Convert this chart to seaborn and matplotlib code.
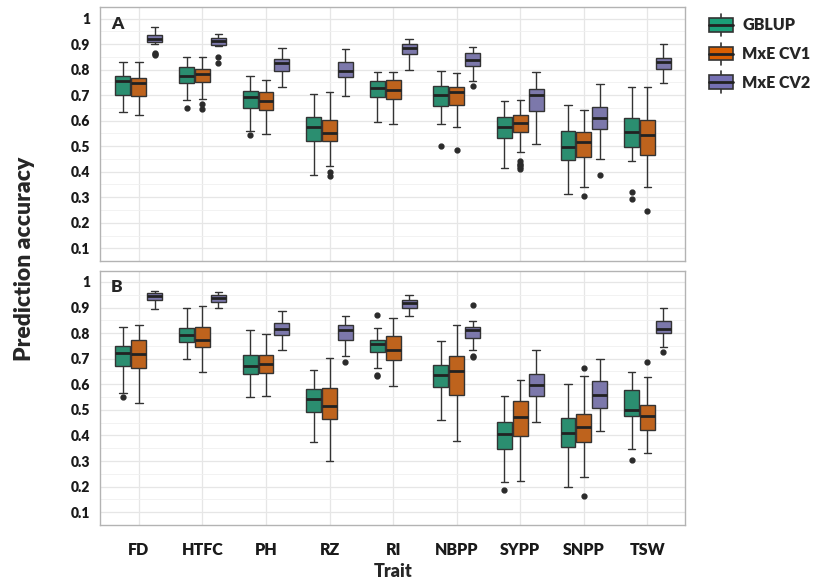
import numpy as np
import pandas as pd
import seaborn as sns
import matplotlib
matplotlib.use("Agg")
import matplotlib.pyplot as plt
from matplotlib.patches import Patch, Rectangle
from matplotlib.lines import Line2D
from matplotlib.legend_handler import HandlerBase

traits = ["FD", "HTFC", "PH", "RZ", "RI", "NBPP", "SYPP", "SNPP", "TSW"]
methods = ["GBLUP", "MxE CV1", "MxE CV2"]
colors = {"GBLUP": "#1b9e77", "MxE CV1": "#d95f02", "MxE CV2": "#7570b3"}

# box stats: [whisker low, q1, median, q3, whisker high]
A_gblup = [[0.633, 0.699, 0.754, 0.776, 0.828], [0.682, 0.749, 0.776, 0.812, 0.848],
           [0.559, 0.650, 0.691, 0.716, 0.776], [0.388, 0.519, 0.576, 0.614, 0.704],
           [0.596, 0.691, 0.728, 0.756, 0.789], [0.585, 0.659, 0.699, 0.737, 0.794],
           [0.414, 0.533, 0.577, 0.615, 0.676], [0.314, 0.446, 0.496, 0.559, 0.662],
           [0.443, 0.496, 0.555, 0.610, 0.733]]
A_cv1 = [[0.624, 0.695, 0.746, 0.769, 0.828], [0.686, 0.750, 0.781, 0.802, 0.848],
         [0.548, 0.642, 0.676, 0.712, 0.760], [0.423, 0.522, 0.553, 0.602, 0.714],
         [0.586, 0.684, 0.719, 0.759, 0.791], [0.575, 0.662, 0.712, 0.732, 0.787],
         [0.477, 0.555, 0.590, 0.624, 0.682], [0.339, 0.458, 0.518, 0.557, 0.640],
         [0.339, 0.467, 0.545, 0.603, 0.733]]
A_cv2 = [[0.900, 0.907, 0.921, 0.934, 0.965], [0.893, 0.896, 0.911, 0.922, 0.939],
         [0.730, 0.794, 0.825, 0.843, 0.886], [0.695, 0.771, 0.796, 0.830, 0.879],
         [0.800, 0.860, 0.883, 0.901, 0.918], [0.756, 0.815, 0.838, 0.864, 0.889],
         [0.507, 0.636, 0.702, 0.725, 0.791], [0.450, 0.568, 0.612, 0.653, 0.745],
         [0.746, 0.802, 0.828, 0.846, 0.899]]

B_gblup = [[0.567, 0.672, 0.721, 0.750, 0.824], [0.698, 0.765, 0.793, 0.821, 0.898],
           [0.551, 0.639, 0.671, 0.713, 0.811], [0.376, 0.493, 0.544, 0.581, 0.654],
           [0.665, 0.725, 0.759, 0.774, 0.821], [0.459, 0.589, 0.638, 0.676, 0.768],
           [0.219, 0.349, 0.405, 0.453, 0.553], [0.197, 0.353, 0.410, 0.470, 0.603],
           [0.346, 0.477, 0.501, 0.579, 0.647]]
B_cv1 = [[0.528, 0.664, 0.720, 0.772, 0.833], [0.647, 0.746, 0.774, 0.822, 0.907],
         [0.554, 0.645, 0.680, 0.715, 0.798], [0.301, 0.466, 0.515, 0.586, 0.703],
         [0.593, 0.693, 0.733, 0.787, 0.859], [0.380, 0.558, 0.650, 0.711, 0.833],
         [0.223, 0.398, 0.472, 0.534, 0.615], [0.236, 0.375, 0.433, 0.485, 0.632],
         [0.333, 0.422, 0.476, 0.519, 0.629]]
B_cv2 = [[0.895, 0.930, 0.946, 0.958, 0.966], [0.900, 0.923, 0.936, 0.949, 0.962],
         [0.733, 0.794, 0.816, 0.838, 0.888], [0.710, 0.774, 0.811, 0.830, 0.868],
         [0.865, 0.900, 0.917, 0.929, 0.948], [0.735, 0.782, 0.811, 0.825, 0.848],
         [0.453, 0.554, 0.597, 0.639, 0.735], [0.418, 0.506, 0.560, 0.611, 0.699],
         [0.746, 0.800, 0.818, 0.847, 0.900]]

# outlier points (trait, method) -> values
A_out = {("FD", "MxE CV2"): [0.864, 0.860, 0.857],
         ("HTFC", "GBLUP"): [0.648],
         ("HTFC", "MxE CV1"): [0.664, 0.646],
         ("HTFC", "MxE CV2"): [0.851, 0.825],
         ("PH", "GBLUP"): [0.542],
         ("RZ", "MxE CV1"): [0.398, 0.384],
         ("NBPP", "GBLUP"): [0.500],
         ("NBPP", "MxE CV1"): [0.484],
         ("NBPP", "MxE CV2"): [0.736],
         ("SYPP", "MxE CV1"): [0.440, 0.432, 0.425, 0.418, 0.410],
         ("SNPP", "MxE CV1"): [0.305],
         ("SNPP", "MxE CV2"): [0.387],
         ("TSW", "GBLUP"): [0.321, 0.293],
         ("TSW", "MxE CV1"): [0.246]}
B_out = {("FD", "GBLUP"): [0.550],
         ("RZ", "MxE CV2"): [0.686],
         ("RI", "GBLUP"): [0.872, 0.638, 0.634],
         ("NBPP", "MxE CV2"): [0.908, 0.712, 0.706],
         ("SYPP", "GBLUP"): [0.185],
         ("SNPP", "MxE CV1"): [0.662, 0.162],
         ("TSW", "GBLUP"): [0.304],
         ("TSW", "MxE CV1"): [0.689],
         ("TSW", "MxE CV2"): [0.725]}


def to_long(stats_by_method, outliers):
    # rebuild a sample whose quartiles/whiskers reproduce the read stats
    rows = []
    for m, stats in stats_by_method.items():
        for t, (lo, q1, med, q3, hi) in zip(traits, stats):
            vals = [lo] + [q1] * 10 + [med] * 10 + [q3] * 10 + [hi] + outliers.get((t, m), [])
            rows += [(t, m, v) for v in vals]
    return pd.DataFrame(rows, columns=["Trait", "Method", "value"])


df_A = to_long({"GBLUP": A_gblup, "MxE CV1": A_cv1, "MxE CV2": A_cv2}, A_out)
df_B = to_long({"GBLUP": B_gblup, "MxE CV1": B_cv1, "MxE CV2": B_cv2}, B_out)

sns.set_style("white")
plt.rcParams["font.family"] = ["Lato", "DejaVu Sans"]
plt.rcParams["font.weight"] = "heavy"
W = "heavy"

fig = plt.figure(figsize=(8.14, 5.84), dpi=100)
ax_A = fig.add_axes([0.1229, 0.553, 0.7186, 0.4345])
ax_B = fig.add_axes([0.1229, 0.101, 0.7186, 0.4355])

for ax, df, lab in [(ax_A, df_A, "A"), (ax_B, df_B, "B")]:
    sns.boxplot(data=df, x="Trait", y="value", hue="Method", order=traits,
                hue_order=methods, palette=colors, width=0.75, gap=0.06,
                linecolor="#333333", linewidth=1.0, fliersize=3.5,
                flierprops=dict(marker="o", markerfacecolor="#2b2b2b",
                                markeredgecolor="#2b2b2b"),
                medianprops=dict(color="#222222", linewidth=2.0),
                legend=False, ax=ax, zorder=3)
    ax.set_xlim(-0.61, 8.59)
    ax.set_ylim(0.055, 1.044)
    ax.set_yticks(np.arange(0.1, 1.01, 0.1))
    ax.set_yticklabels(["0.1", "0.2", "0.3", "0.4", "0.5", "0.6", "0.7", "0.8", "0.9", "1"])
    ax.set_yticks(np.arange(0.05, 1.05, 0.1), minor=True)
    ax.grid(True, which="major", color="#e6e6e6", linewidth=0.9, zorder=0)
    ax.grid(True, which="minor", axis="y", color="#f0f0f0", linewidth=0.6, zorder=0)
    ax.set_axisbelow(True)
    for s in ax.spines.values():
        s.set_color("#b3b3b3")
        s.set_linewidth(1.0)
    ax.tick_params(axis="both", which="major", length=3, color="#b3b3b3",
                   labelcolor="#1a1a1a")
    ax.tick_params(axis="y", which="major", labelsize=10, pad=4)
    ax.tick_params(axis="x", which="major", labelsize=11.5, pad=9)
    ax.tick_params(which="minor", length=0)
    for t in ax.get_xticklabels() + ax.get_yticklabels():
        t.set_fontweight(W)
    ax.set_xlabel("")
    ax.set_ylabel("")
    ax.text(0.019, 0.935, lab, transform=ax.transAxes, fontsize=12.5,
            fontweight=W, va="center", ha="left")

ax_A.tick_params(axis="x", labelbottom=False)

fig.text(0.483, 0.022, "Trait", fontsize=13, fontweight=W, ha="center", va="center")
fig.text(0.03, 0.557, "Prediction accuracy", fontsize=16.5, fontweight=W,
         rotation=90, ha="center", va="center")


class BoxKey(HandlerBase):
    def create_artists(self, legend, orig_handle, xdescent, ydescent, width, height, fontsize, trans):
        x0, y0 = -xdescent, -ydescent
        cx = x0 + width / 2
        wh = Line2D([cx, cx], [y0 - 0.3 * height, y0 + 1.3 * height], color="#333333", lw=1.2)
        box = Rectangle((x0, y0), width, height, facecolor=orig_handle.get_facecolor(),
                        edgecolor="#333333", lw=1.2)
        med = Line2D([x0, x0 + width], [y0 + height / 2] * 2, color="#222222", lw=2)
        for a in (wh, box, med):
            a.set_transform(trans)
        return [wh, box, med]


handles = [Patch(facecolor=colors[m]) for m in methods]
fig.legend(handles, methods, loc="upper left", bbox_to_anchor=(0.853, 0.995),
           frameon=False, handlelength=1.5, handleheight=0.95,
           labelspacing=0.8, handletextpad=0.6,
           handler_map={Patch: BoxKey()}, prop={"weight": W, "size": 11.5})

fig.savefig("out.png", dpi=100)
